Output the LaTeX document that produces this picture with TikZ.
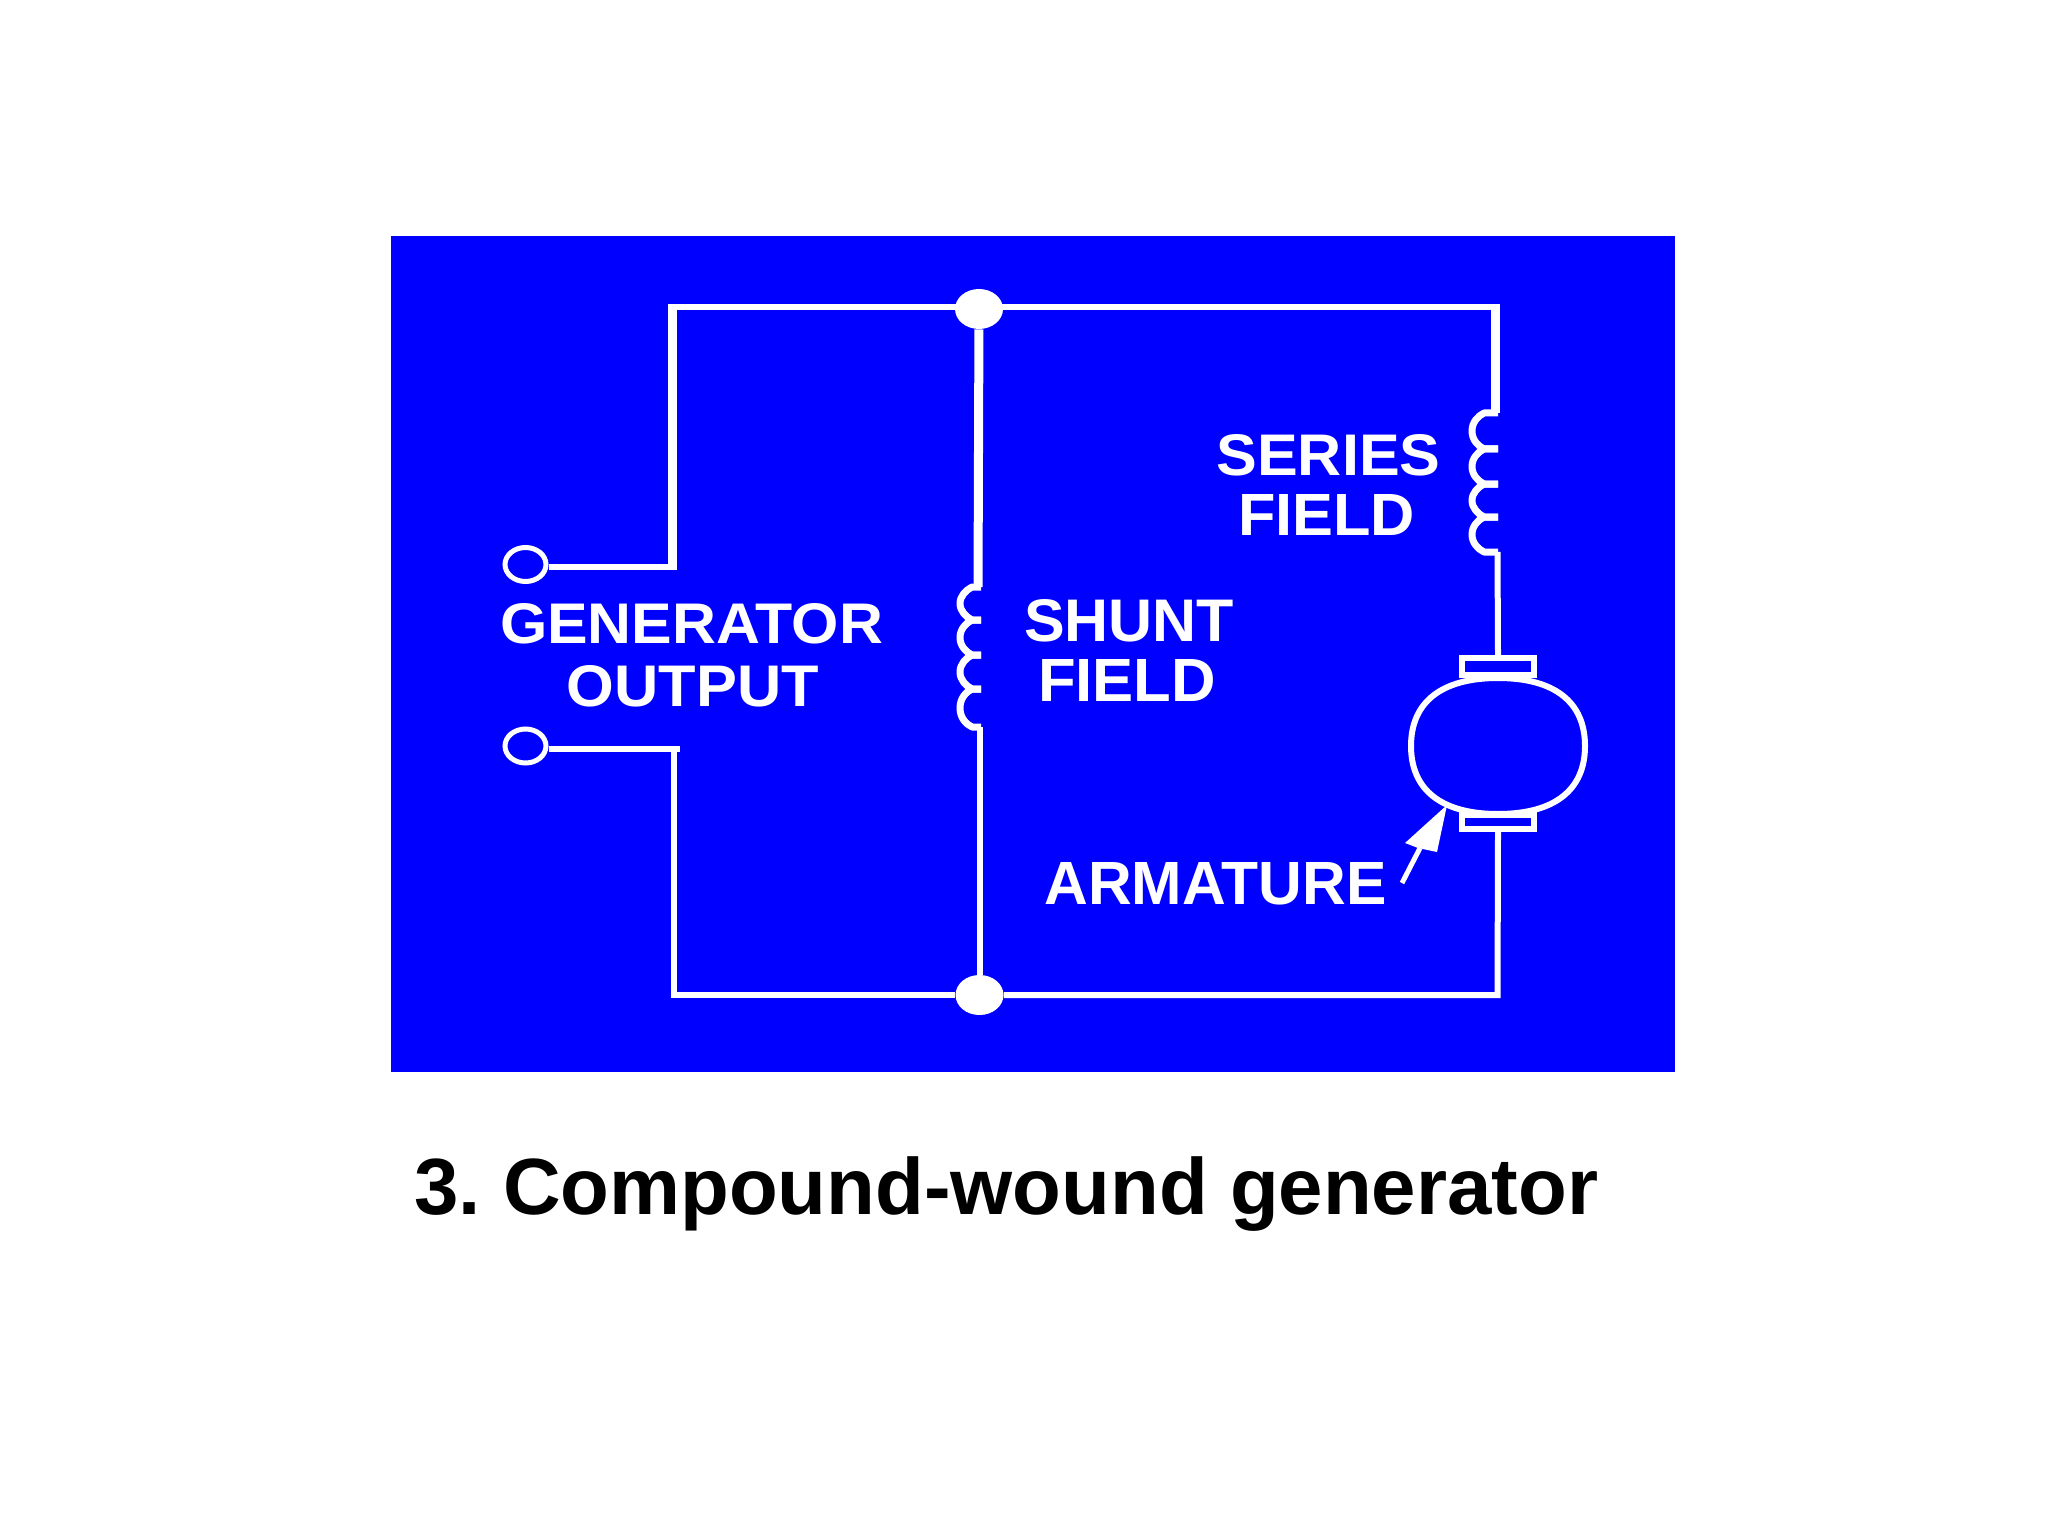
\documentclass[tikz,border=0pt]{standalone}
\usepackage{fontspec}
\setmainfont{Liberation Sans}
\usetikzlibrary{shapes.geometric}
\definecolor{panelblue}{RGB}{0,0,255}
\newcommand{\fitlabel}[3]{\resizebox{#1pt}{#2pt}{\bfseries #3}}
\tikzset{
  px/.style={x=0.5pt,y=-0.5pt},
  wire/.style={draw=white,line width=3pt,line join=miter},
  thickwire/.style={draw=white,line width=4.5pt},
  coilline/.style={draw=white,line width=3.5pt,line join=round},
  terminal/.style={ellipse,draw=white,line width=2.5pt,minimum width=20.5pt,minimum height=17pt,inner sep=0pt},
  junction/.style={ellipse,fill=white,minimum width=24pt,minimum height=20pt,inner sep=0pt},
  brush/.style={rectangle,draw=white,line width=3pt,minimum width=36pt,minimum height=#1,inner sep=0pt},
  armline/.style={draw=white,line width=3pt},
  lab/.style={text=white,inner sep=0pt,anchor=center},
  caption/.style={text=black,inner sep=0pt,anchor=base west,font=\fontsize{39.9}{48}\selectfont\bfseries\frenchspacing}
}
\begin{document}
\begin{tikzpicture}[px]
\useasboundingbox (0,0) rectangle (2048,1534);
\fill[panelblue] (390.5,236) rectangle (1674.5,1072);

% named points
\node[terminal] (t1) at (525.5,564.5) {};
\node[terminal] (t2) at (525.5,746) {};
\node[junction] (jt) at (979,309) {};
\node[junction] (jb) at (979.5,995) {};
\coordinate (c1) at (672,567);
\coordinate (c1t) at (672,307);
\coordinate (c2) at (674,749);
\coordinate (c2e) at (680,749);
\coordinate (c2b) at (674,995);
\coordinate (ctr) at (1497.5,307);
\coordinate (cbr) at (1497.5,995);
\coordinate (sTop) at (1497.5,413);
\coordinate (sBot) at (1497.5,552);
\coordinate (shTop) at (978,587);
\coordinate (shBot) at (979.5,727);
\coordinate (arm) at (1498,746);

% armature
\begin{scope}[shift={(arm)}]
\draw[armline] (-87,0) .. controls (-87,-44) and (-56.5,-68) .. (0,-68)
  .. controls (56.5,-68) and (87,-44) .. (87,0)
  .. controls (87,44) and (56.5,68) .. (0,68)
  .. controls (-56.5,68) and (-87,44) .. (-87,0) -- cycle;
\end{scope}
\node[brush=8.5pt,fill=panelblue] (bt) at (1498,666.5) {};
\node[brush=7pt] (bb) at (1498,822) {};

% wires
\draw[wire] (t1.east |- c1) -- (c1);
\draw[thickwire] ([yshift=-1.25pt]c1) -- ([yshift=1.5pt]c1t);
\draw[wire] (c1t) -- (jt |- c1t);
\draw[wire] (jt |- ctr) -- (ctr);
\draw[wire] (t2.east |- c2) -- (c2e);
\draw[wire] (c2) -- (c2b) -- (jb);
\draw[wire] (jb) -- (cbr) -- (bb.south);
\draw[thickwire] ([xshift=-1pt,yshift=1.5pt]ctr) -- ([xshift=-1pt]sTop);
\draw[wire] (sBot) -- (bt.north);
\draw[thickwire] (jt) -- (shTop);
\draw[wire] (shBot) -- (jb);

% coils
\foreach \a/\b in {413/449,449/484,484/517,517/552}
  \draw[coilline] (1498,\a) -- (1484,\a) .. controls (1478,{\a+3}) and (1472,{\a+9}) .. (1472,{(\a+\b)/2}) .. controls (1472,{\b-9}) and (1478,{\b-3}) .. (1484,\b) -- (1498,\b);
\foreach \a/\b in {587/620,620/655,655/689,689/727}
  \draw[coilline] (981,\a) -- (972,\a) .. controls (966,{\a+3}) and (960,{\a+9}) .. (960,{(\a+\b)/2}) .. controls (960,{\b-9}) and (966,{\b-3}) .. (972,\b) -- (981,\b);

% armature pointer
\coordinate (pTail) at (1402,883);
\coordinate (pNeck) at (1420,848);
\coordinate (pTip) at (1447,805);
\draw[white,line width=2.5pt] (pTail) -- (pNeck);
\fill[white] (pTip) -- (1405,843) -- (1418,848) -- (1437,852) -- cycle;

% labels
\node[lab] (g) at (691.5,624) {\fitlabel{191.5}{20}{GENERATOR}};
\node[lab] (o) at (693,686.5) {\fitlabel{126}{20.5}{OUTPUT}};
\node[lab] (se) at (1328.5,455) {\fitlabel{112}{20.5}{SERIES}};
\node[lab] (sf) at (1326.5,515) {\fitlabel{88.5}{20.5}{FIELD}};
\node[lab] (sh) at (1129,621) {\fitlabel{105}{21}{SHUNT}};
\node[lab] (hf) at (1127,680.5) {\fitlabel{89}{21}{FIELD}};
\node[lab] (am) at (1215.5,884) {\fitlabel{171}{21}{ARMATURE}};
\node[caption] (cap) at (414,1214) {3. Compound-wound generator};
\end{tikzpicture}
\end{document}
